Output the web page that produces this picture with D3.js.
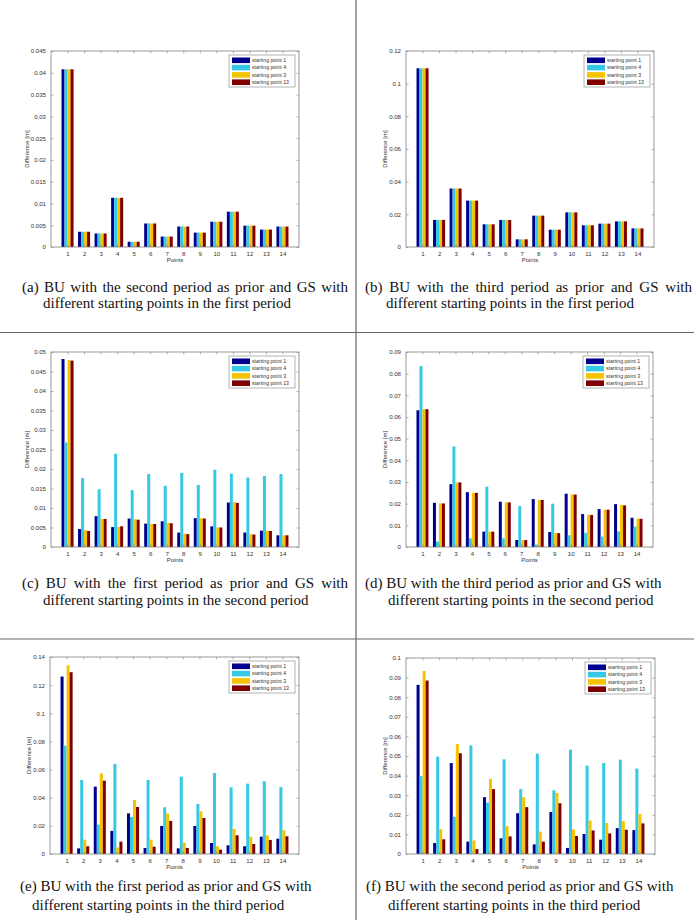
<!DOCTYPE html>
<html>
<head>
<meta charset="utf-8">
<script src="https://cdn.jsdelivr.net/npm/d3@7/dist/d3.min.js"></script>
<style>
  html, body { margin: 0; padding: 0; background: #fff; }
  svg { display: block; }
</style>
</head>
<body>
<svg id="fig" width="694" height="920"></svg>
<script>
// ---------------- DATA ----------------
const points = ["1","2","3","4","5","6","7","8","9","10","11","12","13","14"];
const seriesNames = ["starting point 1", "starting point 4", "starting point 3", "starting point 13"];
const seriesColors = ["#00008f", "#36c9e6", "#f6c300", "#800000"];

// (a) BU with 2nd period prior, GS in 1st period
const a_sp1  = [0.0408,0.0035,0.0031,0.0113,0.0012,0.0054,0.0024,0.0047,0.0033,0.0058,0.0081,0.0049,0.0040,0.0047];
const a_sp4  = [0.0408,0.0035,0.0031,0.0113,0.0012,0.0054,0.0024,0.0047,0.0033,0.0058,0.0081,0.0049,0.0040,0.0047];
const a_sp3  = [0.0408,0.0035,0.0031,0.0113,0.0012,0.0054,0.0024,0.0047,0.0033,0.0058,0.0081,0.0049,0.0040,0.0047];
const a_sp13 = [0.0408,0.0035,0.0031,0.0113,0.0012,0.0054,0.0024,0.0047,0.0033,0.0058,0.0081,0.0049,0.0040,0.0047];
const a_ticks = ["0","0.005","0.01","0.015","0.02","0.025","0.03","0.035","0.04","0.045"];

// (b) BU with 3rd period prior, GS in 1st period
const b_sp1  = [0.1094,0.0166,0.0358,0.0284,0.0139,0.0165,0.0047,0.0192,0.0106,0.0212,0.0133,0.0143,0.0157,0.0114];
const b_sp4  = [0.1094,0.0166,0.0358,0.0284,0.0139,0.0165,0.0047,0.0192,0.0106,0.0212,0.0133,0.0143,0.0157,0.0114];
const b_sp3  = [0.1094,0.0166,0.0358,0.0284,0.0139,0.0165,0.0047,0.0192,0.0106,0.0212,0.0133,0.0143,0.0157,0.0114];
const b_sp13 = [0.1094,0.0166,0.0358,0.0284,0.0139,0.0165,0.0047,0.0192,0.0106,0.0212,0.0133,0.0143,0.0157,0.0114];
const b_ticks = ["0","0.02","0.04","0.06","0.08","0.1","0.12"];

// (c) BU with 1st period prior, GS in 2nd period
const c_sp1  = [0.0482,0.0046,0.0079,0.0051,0.0073,0.0060,0.0066,0.0037,0.0074,0.0053,0.0114,0.0037,0.0042,0.0030];
const c_sp4  = [0.0268,0.0177,0.0148,0.0239,0.0146,0.0187,0.0157,0.0190,0.0159,0.0198,0.0188,0.0178,0.0182,0.0187];
const c_sp3  = [0.0479,0.0043,0.0072,0.0052,0.0071,0.0059,0.0062,0.0034,0.0074,0.0050,0.0115,0.0033,0.0042,0.0030];
const c_sp13 = [0.0478,0.0041,0.0072,0.0053,0.0070,0.0059,0.0061,0.0033,0.0073,0.0050,0.0113,0.0032,0.0041,0.0030];
const c_ticks = ["0","0.005","0.01","0.015","0.02","0.025","0.03","0.035","0.04","0.045","0.05"];

// (d) BU with 3rd period prior, GS in 2nd period
const d_sp1  = [0.0631,0.0204,0.0290,0.0253,0.0071,0.0209,0.0032,0.0221,0.0069,0.0246,0.0152,0.0175,0.0198,0.0135];
const d_sp4  = [0.0835,0.0025,0.0464,0.0040,0.0278,0.0040,0.0189,0.0011,0.0200,0.0054,0.0065,0.0048,0.0072,0.0094];
const d_sp3  = [0.0636,0.0201,0.0298,0.0250,0.0071,0.0206,0.0032,0.0218,0.0064,0.0243,0.0149,0.0172,0.0194,0.0131];
const d_sp13 = [0.0636,0.0201,0.0298,0.0250,0.0071,0.0206,0.0032,0.0217,0.0064,0.0242,0.0148,0.0172,0.0192,0.0130];
const d_ticks = ["0","0.01","0.02","0.03","0.04","0.05","0.06","0.07","0.08","0.09"];

// (e) BU with 1st period prior, GS in 3rd period
const e_sp1  = [0.1261,0.0040,0.0479,0.0164,0.0289,0.0043,0.0199,0.0040,0.0199,0.0078,0.0062,0.0055,0.0123,0.0109];
const e_sp4  = [0.0770,0.0526,0.0209,0.0640,0.0263,0.0526,0.0332,0.0550,0.0355,0.0576,0.0474,0.0500,0.0517,0.0476];
const e_sp3  = [0.1341,0.0102,0.0573,0.0047,0.0384,0.0102,0.0287,0.0081,0.0303,0.0055,0.0178,0.0123,0.0133,0.0168];
const e_sp13 = [0.1292,0.0055,0.0521,0.0088,0.0334,0.0052,0.0235,0.0043,0.0256,0.0031,0.0133,0.0071,0.0100,0.0126];
const e_ticks = ["0","0.02","0.04","0.06","0.08","0.1","0.12","0.14"];

// (f) BU with 2nd period prior, GS in 3rd period
const f_sp1  = [0.0863,0.0056,0.0464,0.0063,0.0290,0.0080,0.0208,0.0049,0.0214,0.0031,0.0102,0.0073,0.0132,0.0122];
const f_sp4  = [0.0397,0.0497,0.0190,0.0554,0.0263,0.0483,0.0331,0.0512,0.0325,0.0532,0.0451,0.0464,0.0481,0.0436];
const f_sp3  = [0.0934,0.0127,0.0561,0.0069,0.0383,0.0142,0.0290,0.0114,0.0312,0.0125,0.0171,0.0158,0.0168,0.0205];
const f_sp13 = [0.0885,0.0075,0.0514,0.0025,0.0331,0.0090,0.0239,0.0063,0.0259,0.0092,0.0120,0.0105,0.0124,0.0156];
const f_ticks = ["0","0.01","0.02","0.03","0.04","0.05","0.06","0.07","0.08","0.09","0.1"];

const captionsA = ["(a) BU with the second period as prior and GS with", "different starting points in the first period"];
const captionsB = ["(b) BU with the third period as prior and GS with", "different starting points in the first period"];
const captionsC = ["(c) BU with the first period as prior and GS with", "different starting points in the second period"];
const captionsD = ["(d) BU with the third period as prior and GS with", "different starting points in the second period"];
const captionsE = ["(e) BU with the first period as prior and GS with", "different starting points in the third period"];
const captionsF = ["(f) BU with the second period as prior and GS with", "different starting points in the third period"];

// ---------------- DRAWING ----------------
const svg = d3.select("#fig");
const W = 694, H = 920;

// frame lines
svg.append("line").attr("x1", 356).attr("x2", 356).attr("y1", 0).attr("y2", H)
  .attr("stroke", "#666").attr("stroke-width", 1.2);
svg.append("line").attr("x1", 0).attr("x2", W).attr("y1", 332.5).attr("y2", 332.5)
  .attr("stroke", "#666").attr("stroke-width", 1.2);
svg.append("line").attr("x1", 0).attr("x2", W).attr("y1", 639).attr("y2", 639)
  .attr("stroke", "#666").attr("stroke-width", 1.2);

function panel(cfg) {
  const {left, right, top, bottom, series, ticks, ylabOff} = cfg;
  const tickVals = ticks.map(Number);
  const ymax = tickVals[tickVals.length - 1];
  const g = svg.append("g");
  const x = d3.scaleLinear().domain([0, 15]).range([left, right]);
  const y = d3.scaleLinear().domain([0, ymax]).range([bottom, top]);
  const groupW = 4 / 5.5;               // MATLAB grouped bar width
  const bw = groupW / 4;
  const band = d3.scaleBand().domain(d3.range(4)).range([-groupW / 2, groupW / 2]).padding(0);

  series.forEach((vals, si) => {
    g.append("g").selectAll("rect").data(vals).join("rect")
      .attr("x", (d, i) => x(i + 1 + band(si)))
      .attr("width", x(bw) - x(0))
      .attr("y", d => y(d))
      .attr("height", d => y(0) - y(d))
      .attr("fill", seriesColors[si]);
  });

  g.append("rect").attr("x", left).attr("y", top).attr("width", right - left).attr("height", bottom - top)
    .attr("fill", "none").attr("stroke", "#808080").attr("stroke-width", 0.8);

  const axisStyle = sel => {
    sel.select(".domain").remove();
    sel.selectAll(".tick line").attr("stroke", "#808080").attr("stroke-width", 0.6);
    sel.selectAll(".tick text").attr("fill", "#333").style("font", "6.1px 'Liberation Sans', Arial, sans-serif");
  };
  const tl = 2.5;
  g.append("g").attr("transform", `translate(${left},0)`)
    .call(d3.axisLeft(y).tickValues(tickVals).tickFormat((d, i) => ticks[i]).tickSizeInner(-tl).tickSizeOuter(0).tickPadding(tl + 2.5))
    .call(axisStyle);
  g.append("g").attr("transform", `translate(${right},0)`)
    .call(d3.axisRight(y).tickValues(tickVals).tickFormat("").tickSizeInner(-tl).tickSizeOuter(0))
    .call(axisStyle);
  g.append("g").attr("transform", `translate(0,${bottom})`)
    .call(d3.axisBottom(x).tickValues(d3.range(1, 15)).tickFormat((d) => points[d - 1]).tickSizeInner(-tl).tickSizeOuter(0).tickPadding(tl + 2.5))
    .call(axisStyle);
  g.append("g").attr("transform", `translate(0,${top})`)
    .call(d3.axisTop(x).tickValues(d3.range(1, 15)).tickFormat("").tickSizeInner(-tl).tickSizeOuter(0))
    .call(axisStyle);

  g.append("text").attr("x", (left + right) / 2).attr("y", bottom + 15)
    .attr("text-anchor", "middle").attr("fill", "#333")
    .style("font", "6px 'Liberation Sans', Arial, sans-serif").text("Points");
  g.append("text").attr("transform", `translate(${left - ylabOff},${(top + bottom) / 2}) rotate(-90)`)
    .attr("text-anchor", "middle").attr("fill", "#333")
    .style("font", "6px 'Liberation Sans', Arial, sans-serif").text("Difference [m]");

  const lx = right - 70, ly = top + 4, lw = 66, lh = 32;
  const lg = g.append("g");
  lg.append("rect").attr("x", lx).attr("y", ly).attr("width", lw).attr("height", lh)
    .attr("fill", "#fff").attr("stroke", "#808080").attr("stroke-width", 0.6);
  seriesNames.forEach((nm, i) => {
    const ry = ly + 2.5 + i * 7.3;
    lg.append("rect").attr("x", lx + 3).attr("y", ry).attr("width", 18).attr("height", 5.6)
      .attr("fill", seriesColors[i]);
    lg.append("text").attr("x", lx + 23).attr("y", ry + 4.6)
      .attr("fill", "#333").style("font", "5.2px 'Liberation Sans', Arial, sans-serif").text(nm);
  });
}

const capFont = "15px 'Liberation Serif', 'Times New Roman', serif";
function justifiedLine(str, x0, y0, len) {
  const words = str.split(" ");
  const widths = words.map(w => {
    const t = svg.append("text").style("font", capFont).text(w);
    const wd = t.node().getComputedTextLength();
    t.remove();
    return wd;
  });
  const total = d3.sum(widths);
  const gap = (len - total) / (words.length - 1);
  const t = svg.append("text").attr("y", y0).style("font", capFont).attr("fill", "#111");
  let cx = x0;
  words.forEach((w, i) => {
    t.append("tspan").attr("x", cx).text(w);
    cx += widths[i] + gap;
  });
}
function caption(lines, x1, y1, x2, y2, len) {
  if (len) {
    justifiedLine(lines[0], x1, y1, len);
  } else {
    svg.append("text").attr("x", x1).attr("y", y1).style("font", capFont).attr("fill", "#111").text(lines[0]);
  }
  svg.append("text").attr("x", x2).attr("y", y2).style("font", capFont).attr("fill", "#111").text(lines[1]);
}

panel({left: 51, right: 299, top: 51, bottom: 247, series: [a_sp1, a_sp4, a_sp3, a_sp13], ticks: a_ticks, ylabOff: 22});
panel({left: 406, right: 654, top: 51, bottom: 247, series: [b_sp1, b_sp4, b_sp3, b_sp13], ticks: b_ticks, ylabOff: 19});
panel({left: 51, right: 299, top: 352, bottom: 547, series: [c_sp1, c_sp4, c_sp3, c_sp13], ticks: c_ticks, ylabOff: 22});
panel({left: 406, right: 653, top: 352, bottom: 547, series: [d_sp1, d_sp4, d_sp3, d_sp13], ticks: d_ticks, ylabOff: 19});
panel({left: 50, right: 299, top: 657, bottom: 854, series: [e_sp1, e_sp4, e_sp3, e_sp13], ticks: e_ticks, ylabOff: 19});
panel({left: 406, right: 655, top: 658, bottom: 854, series: [f_sp1, f_sp4, f_sp3, f_sp13], ticks: f_ticks, ylabOff: 19});

caption(captionsA, 22, 292, 43, 308, 326);
caption(captionsB, 365, 292, 386, 308, 327);
caption(captionsC, 22, 588, 43, 605, 326);
caption(captionsD, 365, 588, 388, 605, null);
caption(captionsE, 20, 891, 32, 910, null);
caption(captionsF, 366, 891, 388, 910, null);
</script>
</body>
</html>
